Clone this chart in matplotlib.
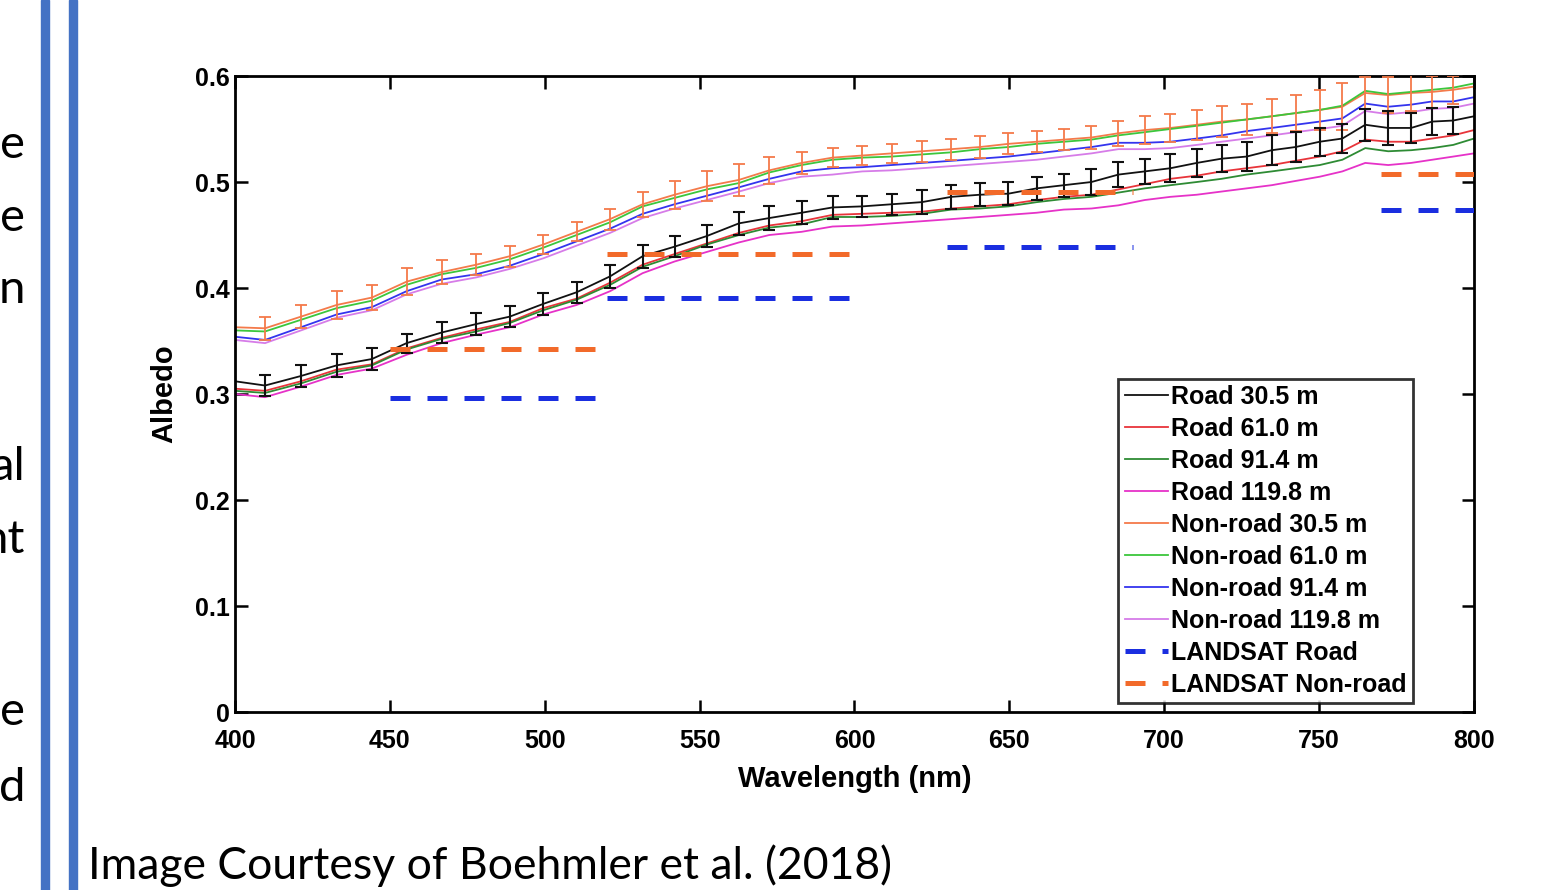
import matplotlib.pyplot as plt
from matplotlib.patches import Rectangle

# Data
wavelength = [400.0, 409.7, 421.3, 432.8, 444.2, 455.4, 466.7, 477.9, 488.7, 499.5,
              510.3, 521.1, 531.6, 541.9, 552.3, 562.7, 572.5, 582.9, 592.9, 602.5,
              612.0, 621.7, 631.3, 640.5, 649.7, 658.8, 667.6, 676.5, 685.2, 693.7,
              702.0, 710.5, 718.5, 726.6, 734.7, 742.4, 750.2, 757.5, 764.9, 772.3,
              779.7, 786.5, 793.3, 800.0]

road_305 = [0.312, 0.308, 0.317, 0.327, 0.333, 0.348, 0.358, 0.366, 0.373, 0.385,
            0.396, 0.411, 0.430, 0.439, 0.449, 0.461, 0.466, 0.471, 0.476, 0.477,
            0.479, 0.481, 0.486, 0.488, 0.489, 0.494, 0.497, 0.500, 0.507, 0.510,
            0.513, 0.518, 0.522, 0.524, 0.530, 0.533, 0.538, 0.541, 0.554, 0.551,
            0.551, 0.557, 0.558, 0.562]
road_610 = [0.305, 0.303, 0.312, 0.323, 0.328, 0.343, 0.353, 0.361, 0.368, 0.381,
            0.390, 0.405, 0.422, 0.432, 0.442, 0.452, 0.459, 0.463, 0.469, 0.470,
            0.471, 0.472, 0.475, 0.477, 0.479, 0.483, 0.486, 0.488, 0.493, 0.498,
            0.503, 0.506, 0.510, 0.513, 0.516, 0.520, 0.524, 0.529, 0.540, 0.538,
            0.538, 0.541, 0.544, 0.549]
road_914 = [0.303, 0.301, 0.310, 0.321, 0.327, 0.342, 0.352, 0.359, 0.367, 0.379,
            0.389, 0.403, 0.420, 0.430, 0.441, 0.450, 0.457, 0.460, 0.467, 0.467,
            0.468, 0.470, 0.474, 0.475, 0.477, 0.481, 0.484, 0.486, 0.490, 0.494,
            0.497, 0.500, 0.503, 0.507, 0.510, 0.513, 0.516, 0.521, 0.532, 0.529,
            0.530, 0.532, 0.535, 0.541]
road_1198 = [0.300, 0.297, 0.307, 0.318, 0.324, 0.337, 0.348, 0.356, 0.363, 0.375,
             0.384, 0.397, 0.414, 0.425, 0.434, 0.443, 0.450, 0.453, 0.458, 0.459,
             0.461, 0.463, 0.465, 0.467, 0.469, 0.471, 0.474, 0.475, 0.478, 0.483,
             0.486, 0.488, 0.491, 0.494, 0.497, 0.501, 0.505, 0.510, 0.518, 0.516,
             0.518, 0.521, 0.524, 0.527]
nonroad_305 = [0.363, 0.362, 0.373, 0.384, 0.391, 0.406, 0.415, 0.422, 0.430, 0.441,
               0.453, 0.465, 0.479, 0.488, 0.496, 0.502, 0.511, 0.518, 0.523, 0.525,
               0.527, 0.529, 0.531, 0.533, 0.536, 0.538, 0.540, 0.542, 0.546, 0.549,
               0.551, 0.554, 0.557, 0.559, 0.562, 0.565, 0.568, 0.571, 0.584, 0.582,
               0.584, 0.585, 0.587, 0.590]
nonroad_610 = [0.360, 0.359, 0.370, 0.381, 0.388, 0.403, 0.413, 0.419, 0.427, 0.438,
               0.450, 0.462, 0.477, 0.485, 0.493, 0.499, 0.509, 0.516, 0.521, 0.523,
               0.524, 0.526, 0.528, 0.531, 0.533, 0.536, 0.538, 0.540, 0.544, 0.547,
               0.550, 0.553, 0.556, 0.559, 0.562, 0.565, 0.568, 0.572, 0.586, 0.583,
               0.585, 0.587, 0.589, 0.593]
nonroad_914 = [0.354, 0.351, 0.363, 0.375, 0.382, 0.397, 0.408, 0.413, 0.421, 0.432,
               0.444, 0.456, 0.470, 0.479, 0.487, 0.495, 0.503, 0.510, 0.513, 0.514,
               0.516, 0.518, 0.520, 0.522, 0.524, 0.527, 0.530, 0.533, 0.537, 0.537,
               0.538, 0.541, 0.544, 0.548, 0.551, 0.554, 0.557, 0.560, 0.574, 0.571,
               0.573, 0.576, 0.576, 0.580]
nonroad_1198 = [0.351, 0.348, 0.360, 0.372, 0.379, 0.394, 0.404, 0.410, 0.418, 0.428,
                0.440, 0.452, 0.466, 0.475, 0.483, 0.491, 0.499, 0.505, 0.507, 0.510,
                0.511, 0.513, 0.515, 0.517, 0.519, 0.521, 0.524, 0.527, 0.531, 0.531,
                0.532, 0.535, 0.538, 0.541, 0.544, 0.547, 0.550, 0.553, 0.567, 0.564,
                0.566, 0.569, 0.570, 0.574]

# error bars sit on every point except the two ends
road_err = [0.010, 0.010, 0.011, 0.010, 0.009, 0.010, 0.010, 0.010, 0.010, 0.010,
            0.011, 0.011, 0.010, 0.010, 0.011, 0.011, 0.011, 0.011, 0.010, 0.010,
            0.011, 0.011, 0.011, 0.011, 0.011, 0.011, 0.012, 0.012, 0.012, 0.013,
            0.013, 0.013, 0.014, 0.014, 0.014, 0.013, 0.014, 0.015, 0.016, 0.014,
            0.013, 0.013]
nonroad_err = [0.011, 0.011, 0.013, 0.012, 0.013, 0.011, 0.010, 0.010, 0.009, 0.009,
               0.010, 0.012, 0.013, 0.014, 0.015, 0.013, 0.010, 0.009, 0.009, 0.009,
               0.010, 0.010, 0.010, 0.010, 0.010, 0.010, 0.011, 0.012, 0.013, 0.013,
               0.014, 0.015, 0.015, 0.016, 0.017, 0.019, 0.022, 0.015, 0.017, 0.017,
               0.015, 0.013]

# LANDSAT bands (start, end) and band albedo
band_edges = [(450, 520), (520, 600), (630, 690), (770, 800)]
landsat_road = [0.296, 0.391, 0.439, 0.474]
landsat_nonroad = [0.342, 0.432, 0.491, 0.508]

xticks = [400, 450, 500, 550, 600, 650, 700, 750, 800]
yticks = [0, 0.1, 0.2, 0.3, 0.4, 0.5, 0.6]
ytick_labels = ['0', '0.1', '0.2', '0.3', '0.4', '0.5', '0.6']

series = [
    ('Road 30.5 m', road_305, '#111111'),
    ('Road 61.0 m', road_610, '#e8343a'),
    ('Road 91.4 m', road_914, '#2e8b34'),
    ('Road 119.8 m', road_1198, '#e632c8'),
    ('Non-road 30.5 m', nonroad_305, '#f47a4a'),
    ('Non-road 61.0 m', nonroad_610, '#3cc63c'),
    ('Non-road 91.4 m', nonroad_914, '#3434ee'),
    ('Non-road 119.8 m', nonroad_1198, '#d67ce8'),
]

plt.rcParams['font.family'] = 'Liberation Sans'
plt.rcParams['font.weight'] = 'bold'

fig = plt.figure(figsize=(15.42, 8.90), dpi=100)
ax = fig.add_axes([0.1524, 0.2, 0.8035, 0.7146])

for label, vals, color in series:
    ax.plot(wavelength, vals, color=color, lw=1.3, label=label)

# error bars for the 30.5 m curves
bar_wl = wavelength[1:-1]
ax.errorbar(bar_wl, nonroad_305[1:-1], yerr=nonroad_err, fmt='none',
            ecolor='#f47a4a', elinewidth=1.3, capsize=4, capthick=1.3, zorder=3)
ax.errorbar(bar_wl, road_305[1:-1], yerr=road_err, fmt='none',
            ecolor='#111111', elinewidth=1.5, capsize=4, capthick=1.5, zorder=4)

# LANDSAT band values
for i, (x0, x1) in enumerate(band_edges):
    ax.plot([x0, x1], [landsat_road[i]] * 2, color='#1a2ee0', lw=3.6,
            ls=(0, (4, 3.4)), label='LANDSAT Road' if i == 0 else None, zorder=5)
    ax.plot([x0, x1], [landsat_nonroad[i]] * 2, color='#f26a2a', lw=3.6,
            ls=(0, (4, 3.4)), label='LANDSAT Non-road' if i == 0 else None, zorder=5)

ax.set_xlim(400, 800)
ax.set_ylim(0, 0.6)
ax.set_xticks(xticks)
ax.set_yticks(yticks)
ax.set_yticklabels(ytick_labels)
ax.tick_params(direction='in', top=True, right=True, length=9, width=1.8,
               labelsize=18)
ax.tick_params(axis='x', pad=12)
ax.tick_params(axis='y', pad=4)
for sp in ax.spines.values():
    sp.set_linewidth(2)

ax.set_xlabel('Wavelength (nm)', fontsize=21, fontweight='bold')
ax.set_ylabel('Albedo', fontsize=21, fontweight='bold')
ax.xaxis.set_label_coords(0.5, -0.084)
ax.yaxis.set_label_coords(-0.046, 0.5)

leg = ax.legend(loc='lower right', bbox_to_anchor=(0.951, 0.014), fontsize=18,
                frameon=True, fancybox=False, edgecolor='black', handlelength=1.75,
                handletextpad=0.12, labelspacing=0.32, borderpad=0.25,
                borderaxespad=0)
leg.get_frame().set_linewidth(2)
for t in leg.get_texts():
    t.set_fontweight('bold')

# slide decorations around the picture
fig.patches.append(Rectangle((41 / 1542, 0), 8 / 1542, 1, transform=fig.transFigure,
                             color='#4472c4', zorder=0))
fig.patches.append(Rectangle((69 / 1542, 0), 8 / 1542, 1, transform=fig.transFigure,
                             color='#4472c4', zorder=0))
side_text = [('e', 145), ('e', 218), ('n', 290), ('al', 467), ('nt', 540),
             ('e', 712), ('d', 788)]
for s, yp in side_text:
    fig.text(25 / 1542, 1 - yp / 890, s, fontsize=34, family='Lato',
             fontweight='normal', ha='right', va='center')

fig.text(88 / 1542, 1 - 866 / 890, 'Image Courtesy of Boehmler et al. (2018)',
         fontsize=32, family='Lato', fontweight='normal', ha='left', va='center')

fig.savefig('out.png', dpi=100)
